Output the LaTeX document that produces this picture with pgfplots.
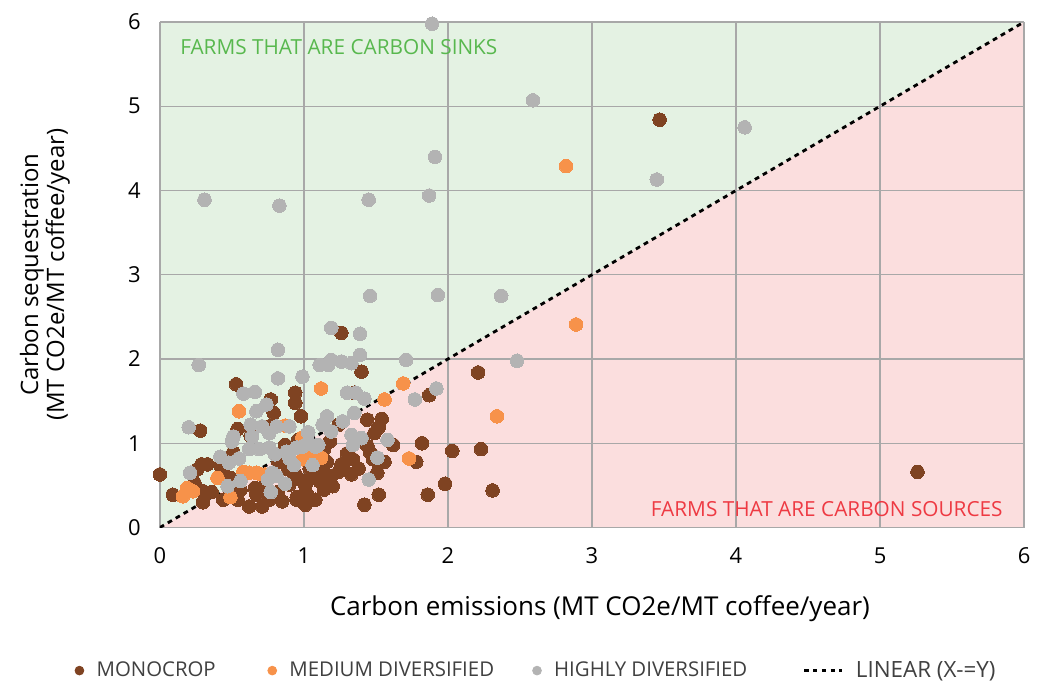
\documentclass[border=0pt]{standalone}
\usepackage{pgfplots}
\pgfplotsset{compat=1.18}
\usepackage{fontspec}
\setmainfont{Open Sans}
\definecolor{mono}{HTML}{7F4322}
\definecolor{med}{HTML}{F7924A}
\definecolor{high}{HTML}{B3B3B3}
\definecolor{sinkbg}{HTML}{E4F2E3}
\definecolor{sourcebg}{HTML}{FBDEDE}
\definecolor{sinktxt}{HTML}{58B84E}
\definecolor{sourcetxt}{HTML}{EE3A43}
\definecolor{gridc}{HTML}{A8A8A8}
\definecolor{legtxt}{HTML}{404040}
\begin{document}
\begin{tikzpicture}
\begin{axis}[
  set layers,
  scale only axis, width=432.5pt, height=253pt,
  xmin=0, xmax=6, ymin=0, ymax=6,
  xtick={0,1,2,3,4,5,6}, ytick={0,1,2,3,4,5,6},
  grid=major, grid style={gridc, line width=0.7pt},
  axis line style={draw=none},
  major tick length=0pt,
  /pgf/number format/assume math mode=true,
  tick label style={font=\fontsize{11}{13}\selectfont, text=black},
  xticklabel style={yshift=-6.5pt},
  yticklabel style={xshift=-6pt},
  xlabel={Carbon emissions (MT CO2e/MT coffee/year)},
  xlabel style={at={(axis description cs:0.5,0)}, anchor=center, yshift=-40.5pt, xshift=4pt, font=\fontsize{13}{15}\selectfont},
  ylabel={Carbon sequestration\\(MT CO2e/MT coffee/year)},
  ylabel style={at={(axis description cs:-0.133,0.5)}, anchor=center, align=center, font=\fontsize{12}{13}\selectfont},
  legend columns=4,
  legend style={at={(axis description cs:-0.106,-0.283)}, anchor=west, draw=none, fill=none,
    font=\fontsize{10.2}{12}\selectfont, text=legtxt,
    /tikz/every odd column/.append style={column sep=4.2pt},
    /tikz/every even column/.append style={column sep=0pt}},
  legend cell align=left,
  clip=true,
]
\addplot[on layer=axis background, fill=sinkbg, draw=none, forget plot] coordinates {(0,0) (0,6) (6,6)} -- cycle;
\addplot[on layer=axis background, fill=sourcebg, draw=none, forget plot] coordinates {(0,0) (6,6) (6,0)} -- cycle;

\addplot[only marks, color=mono, mark=*, mark size=3.4pt, mark options={solid, fill=mono, draw=mono, line width=0pt},
  legend image code/.code={\fill[mono] (0pt,0pt) circle (2.2pt);}] coordinates {
(3.47,4.84) (5.26,0.66) (2.21,1.84) (1.87,1.57) (1.26,2.31) (1.40,1.85) (2.31,0.44) (1.98,0.52) (1.86,0.39) (2.23,0.93) (2.03,0.91) (1.82,1.00) (1.78,0.78) (1.42,0.27) (1.52,0.39) (0.00,0.63) (0.94,1.60) (0.94,1.48) (0.98,1.32) (0.53,1.70) (0.77,1.52) (0.79,1.36) (0.54,1.17) (0.76,1.20) (0.63,1.09) (0.28,1.15) (1.35,1.60) (1.24,1.22) (1.44,1.28) (1.54,1.29) (1.52,1.19) (1.49,1.12) (1.62,0.98) (1.44,0.97) (1.46,0.89) (1.48,0.81) (1.56,0.78) (1.34,0.81) (1.26,0.75) (1.24,0.66) (1.33,0.63) (1.51,0.65) (1.19,0.61) (1.20,0.49) (1.11,0.55) (1.02,0.40) (1.01,0.27) (0.95,0.33) (0.85,0.31) (0.29,0.75) (0.33,0.75) (0.42,0.74) (0.44,0.65) (0.24,0.53) (0.30,0.43) (0.09,0.39) (0.26,0.69) (0.49,0.59) (0.44,0.33) (0.56,0.45) (0.54,0.33) (0.62,0.25) (0.71,0.25) (0.30,0.30) (0.66,0.47) (0.67,0.39) (0.36,0.42) (0.95,0.36) (0.90,0.51) (0.97,0.57) (1.05,0.59) (1.14,0.45) (1.08,0.33) (0.89,0.69) (0.94,0.63) (1.01,0.50) (1.12,0.69) (0.82,0.42) (0.76,0.33) (0.71,0.47) (0.51,0.89) (1.27,0.74) (0.87,0.98) (0.96,1.04) (1.18,1.02) (1.14,0.93) (0.82,0.78) (1.30,0.88) (1.38,0.70) (1.16,0.78) (1.04,0.70)
};
\addlegendentry{\makebox[83.5pt][l]{MONOCROP}}

\addplot[only marks, color=med, mark=*, mark size=3.4pt, mark options={solid, fill=med, draw=med, line width=0pt},
  legend image code/.code={\fill[med] (0pt,0pt) circle (2.2pt);}] coordinates {
(2.82,4.29) (2.89,2.41) (2.34,1.32) (1.69,1.71) (1.56,1.52) (1.12,1.65) (1.73,0.82) (0.55,1.38) (0.99,0.81) (1.03,0.81) (1.12,0.83) (1.06,0.89) (0.99,1.07) (0.87,1.21) (0.16,0.37) (0.19,0.47) (0.23,0.43) (0.40,0.59) (0.49,0.36) (0.58,0.66) (0.62,0.65) (0.67,0.65) (0.69,0.64) (0.73,0.63)
};
\addlegendentry{\makebox[119.5pt][l]{MEDIUM DIVERSIFIED}}

\addplot[only marks, color=high, mark=*, mark size=3.4pt, mark options={solid, fill=high, draw=high, line width=0pt},
  legend image code/.code={\fill[high] (0pt,0pt) circle (2.2pt);}] coordinates {
(1.89,5.98) (2.59,5.07) (4.06,4.75) (3.45,4.13) (1.91,4.40) (1.87,3.94) (1.45,3.89) (0.31,3.89) (0.83,3.82) (1.46,2.75) (1.93,2.76) (2.37,2.75) (1.19,2.37) (1.39,2.30) (2.48,1.98) (0.27,1.93) (0.82,2.11) (1.39,2.05) (1.19,1.99) (1.11,1.93) (1.17,1.93) (1.26,1.97) (1.33,1.95) (0.99,1.79) (1.71,1.99) (1.30,1.60) (1.42,1.53) (1.77,1.52) (1.92,1.65) (0.58,1.59) (0.66,1.61) (0.82,1.77) (0.74,1.46) (0.67,1.38) (0.20,1.19) (0.63,1.22) (0.71,1.20) (0.81,1.20) (0.90,1.20) (0.51,1.08) (0.64,1.08) (0.76,1.12) (1.03,1.13) (1.13,1.22) (1.16,1.32) (1.10,0.98) (1.03,1.01) (0.42,0.84) (0.48,0.77) (0.55,0.82) (0.62,0.93) (0.69,0.93) (0.76,0.95) (0.88,0.90) (0.95,0.95) (0.93,0.74) (1.06,0.74) (0.21,0.65) (0.75,0.57) (0.81,0.61) (0.87,0.52) (0.77,0.42) (0.47,0.49) (0.56,0.55) (1.36,1.60) (1.27,1.26) (1.35,1.36) (1.19,1.14) (1.33,1.10) (1.40,1.06) (1.58,1.04) (1.34,0.98) (1.51,0.83) (1.45,0.57) (0.99,0.96) (1.08,0.96) (0.80,0.87) (0.90,0.82) (0.78,0.65) (0.50,1.02)
};
\addlegendentry{\makebox[122.5pt][l]{HIGHLY DIVERSIFIED}}

\addplot[black, line width=1.4pt, dash pattern=on 2.4pt off 2.2pt,
  legend image code/.code={\draw[black, line width=1.3pt, dash pattern=on 2.2pt off 2.2pt] (0pt,0pt) -- (19pt,0pt);}] coordinates {(0,0) (6,6)};
\addlegendentry{\fontsize{11.2}{12}\selectfont LINEAR (X-=Y)}

\node[anchor=west, inner sep=0pt, text=sinktxt, font=\fontsize{10.4}{12}\selectfont] at (axis cs:0.139,5.70) {FARMS THAT ARE CARBON SINKS};
\node[anchor=east, inner sep=0pt, text=sourcetxt, font=\fontsize{10.4}{12}\selectfont] at (axis cs:5.854,0.225) {FARMS THAT ARE CARBON SOURCES};
\end{axis}
\path[use as bounding box] (-80pt,-77pt) rectangle (438.5pt,264pt);
\end{tikzpicture}
\end{document}
